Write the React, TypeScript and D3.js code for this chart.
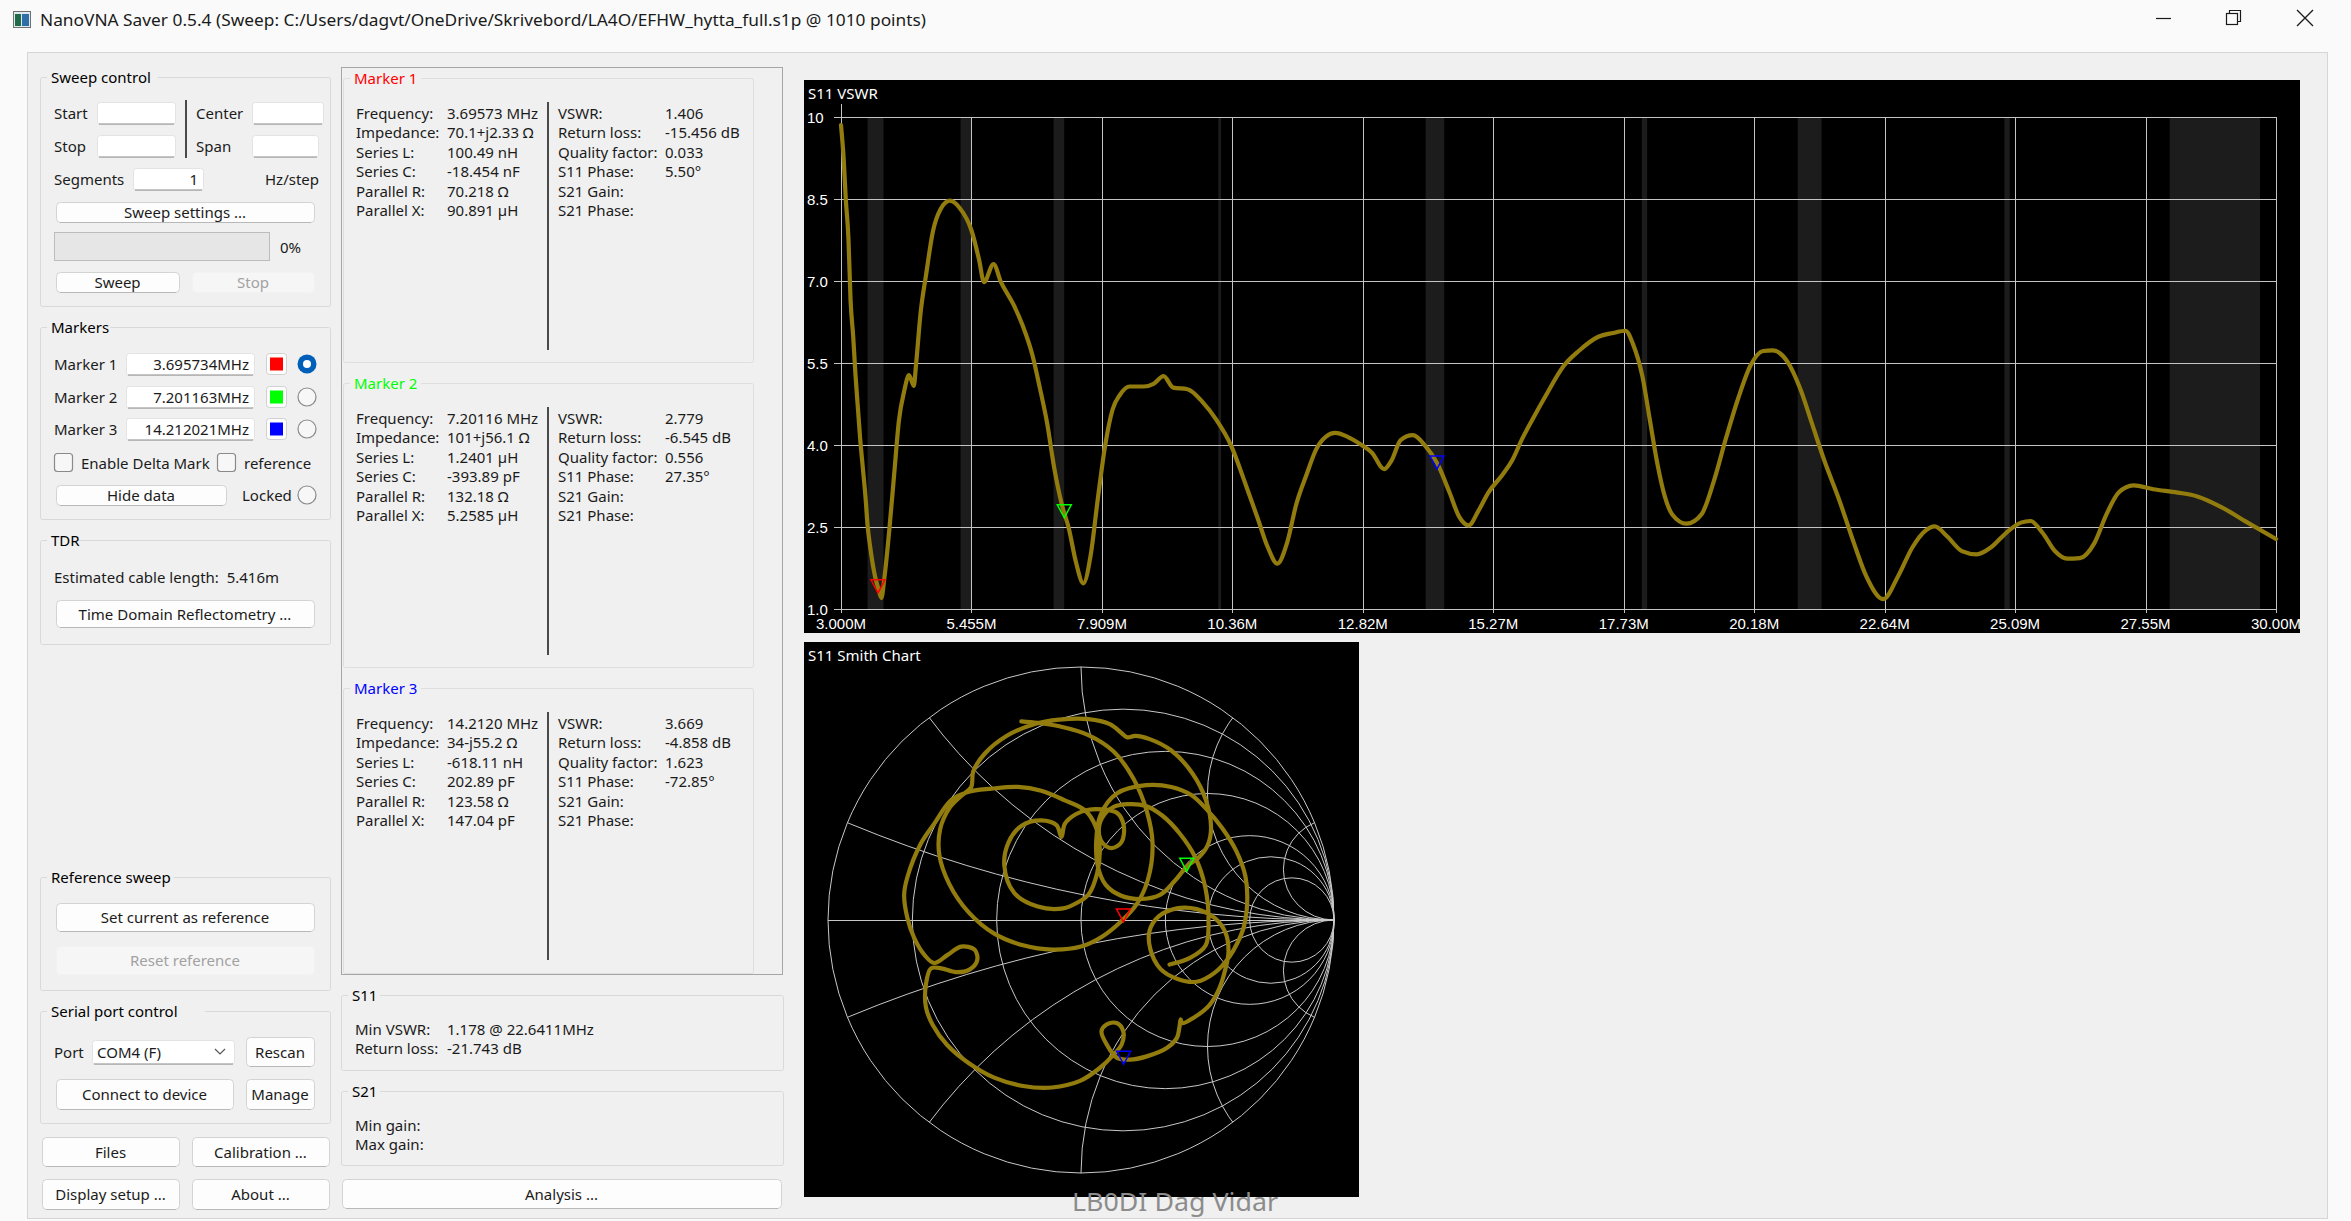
import React from "react";
import * as d3 from "d3";

const WIDTH = 2351;
const HEIGHT = 1221;
const UI_FONT = "'Noto Sans', 'Open Sans', sans-serif";
const CHART_FONT = "'Liberation Sans', Arial, sans-serif";
const TRACE = "#937c0e";
const GRID = "#c4c4c4";

const windowTitle =
  "NanoVNA Saver 0.5.4 (Sweep: C:/Users/dagvt/OneDrive/Skrivebord/LA4O/EFHW_hytta_full.s1p @ 1010 points)";

// S11 VSWR sweep (MHz / VSWR)
const freqMHz = [
  3.0, 3.05, 3.09, 3.14, 3.18, 3.23, 3.27, 3.32, 3.36, 3.41, 3.46, 3.5, 3.55, 3.64, 3.7, 3.76, 3.82, 3.91,
  4.0, 4.09, 4.19, 4.28, 4.37, 4.41, 4.5, 4.6, 4.73, 4.87, 5.05, 5.23, 5.46, 5.6, 5.69, 5.87, 6.01, 6.24,
  6.42, 6.6, 6.74, 6.88, 7.01, 7.15, 7.29, 7.42, 7.56, 7.7, 7.83, 7.97, 8.11, 8.25, 8.43, 8.7, 8.88, 9.07,
  9.25, 9.52, 9.8, 10.07, 10.34, 10.62, 10.84, 11.03, 11.21, 11.39, 11.57, 11.76, 11.94, 12.12, 12.3,
  12.53, 12.81, 12.99, 13.22, 13.36, 13.53, 13.76, 13.99, 14.22, 14.45, 14.63, 14.81, 14.99, 15.18, 15.45,
  15.63, 15.82, 16.0, 16.27, 16.6, 16.88, 17.25, 17.53, 17.76, 17.9, 18.08, 18.22, 18.36, 18.5, 18.64,
  18.91, 19.19, 19.42, 19.65, 19.88, 20.11, 20.35, 20.53, 20.81, 21.04, 21.27, 21.5, 21.78, 22.06, 22.29,
  22.61, 22.89, 23.16, 23.4, 23.58, 23.81, 24.09, 24.37, 24.64, 24.92, 25.2, 25.38, 25.61, 25.84, 26.07,
  26.31, 26.58, 26.81, 27.04, 27.32, 27.69, 28.15, 28.52, 28.98, 29.45, 30.0,
];
const vswr = [
  9.85, 9.24, 8.5, 7.78, 6.65, 5.98, 5.32, 4.65, 4.12, 3.59, 3.06, 2.53, 2.13, 1.6, 1.38, 1.2, 1.6, 2.46,
  3.46, 4.45, 4.99, 5.28, 5.08, 5.45, 6.44, 7.11, 7.91, 8.31, 8.47, 8.34, 7.91, 7.38, 6.98, 7.31, 6.98, 6.58,
  6.18, 5.65, 5.05, 4.39, 3.59, 2.93, 2.46, 1.86, 1.47, 2.0, 3.0, 3.99, 4.65, 4.92, 5.07, 5.07, 5.12, 5.26,
  5.05, 5.02, 4.79, 4.45, 3.99, 3.26, 2.66, 2.13, 1.83, 2.2, 2.93, 3.46, 3.92, 4.15, 4.22,
  4.15, 3.99, 3.86, 3.56, 3.72, 4.09, 4.18, 3.99, 3.66, 3.13, 2.69, 2.53, 2.79, 3.13, 3.46,
  3.72, 4.12, 4.45, 4.92, 5.45, 5.72, 5.98, 6.05, 6.09, 5.85, 5.25, 4.45, 3.66, 3.06, 2.73,
  2.56, 2.73, 3.33, 4.12, 4.85, 5.45, 5.72, 5.73, 5.52, 5.05, 4.39, 3.72, 3.0, 2.2, 1.6,
  1.18, 1.6, 2.13, 2.43, 2.51, 2.33, 2.06, 2.0, 2.13, 2.39, 2.58, 2.61, 2.39, 2.06, 1.92,
  1.93, 2.2, 2.73, 3.13, 3.26, 3.19, 3.13, 3.06, 2.86, 2.59, 2.28,
];

const freqTicks = [3.0, 5.4545, 7.9091, 10.3636, 12.8182, 15.2727, 17.7273, 20.1818, 22.6364, 25.0909, 27.5455, 30.0];
const freqTickLabels = ["3.000M", "5.455M", "7.909M", "10.36M", "12.82M", "15.27M", "17.73M", "20.18M", "22.64M", "25.09M", "27.55M", "30.00M"];
const vswrTicks = [1.0, 2.5, 4.0, 5.5, 7.0, 8.5, 10];
const vswrTickLabels = ["1.0", "2.5", "4.0", "5.5", "7.0", "8.5", "10"];

// amateur bands shaded in the VSWR chart (MHz)
const bandStart = [3.5, 5.25, 7.0, 10.1, 14.0, 18.068, 21.0, 24.89, 28.0];
const bandEnd = [3.8, 5.45, 7.2, 10.15, 14.35, 18.168, 21.45, 24.99, 29.7];

const s11Re = [
  -0.236, -0.171, -0.086, 0.029, 0.129, 0.207, 0.26, 0.283, 0.264, 0.221,
  0.157, 0.086, 0.0, -0.114, -0.229, -0.343, -0.443, -0.521, -0.56, -0.557,
  -0.521, -0.474, -0.434, -0.426, -0.379, -0.293, -0.186, -0.086, 0.029, 0.114,
  0.161, 0.183, 0.214, 0.269, 0.357, 0.44, 0.493, 0.514, 0.5, 0.464,
  0.419, 0.371, 0.314, 0.243, 0.157, 0.097, 0.066, 0.06, 0.077, 0.143,
  0.257, 0.357, 0.436, 0.493, 0.557, 0.614, 0.65, 0.657, 0.643, 0.617,
  0.586, 0.529, 0.457, 0.379, 0.314, 0.274, 0.271, 0.307, 0.379, 0.457,
  0.529, 0.571, 0.583, 0.569, 0.546, 0.507, 0.444, 0.4, 0.394, 0.389,
  0.379, 0.339, 0.26, 0.194, 0.141, 0.101, 0.081, 0.101, 0.141, 0.167,
  0.161, 0.129, 0.074, -0.004, -0.114, -0.229, -0.343, -0.443, -0.529, -0.586,
  -0.613, -0.613, -0.593, -0.553, -0.494, -0.441, -0.41, -0.421, -0.474, -0.527,
  -0.58, -0.619, -0.659, -0.686, -0.699, -0.686, -0.633, -0.58, -0.514, -0.447,
  -0.354, -0.249, -0.157, -0.064, 0.016, 0.057, 0.074, 0.064, 0.029, -0.014,
  -0.071, -0.171, -0.264, -0.303, -0.286, -0.236, -0.157, -0.097, -0.077, -0.064,
  -0.021, 0.029, 0.086, 0.143, 0.169, 0.16, 0.121, 0.083, 0.071, 0.093,
  0.129, 0.186, 0.257, 0.321, 0.391, 0.451, 0.491, 0.504, 0.493, 0.431, 0.35,
];
const s11Im = [
  0.785, 0.779, 0.766, 0.731, 0.666, 0.559, 0.43, 0.301, 0.158, 0.064,
  -0.007, -0.064, -0.105, -0.117, -0.1, -0.054, 0.029, 0.143, 0.258, 0.358,
  0.441, 0.49, 0.526, 0.587, 0.659, 0.728, 0.774, 0.792, 0.794, 0.774,
  0.738, 0.722, 0.728, 0.716, 0.67, 0.58, 0.476, 0.365, 0.294, 0.246,
  0.212, 0.155, 0.1, 0.083, 0.097, 0.14, 0.215, 0.308, 0.415, 0.501,
  0.533, 0.526, 0.494, 0.441, 0.365, 0.272, 0.172, 0.072, -0.029, -0.093,
  -0.146, -0.208, -0.244, -0.232, -0.193, -0.115, -0.043, 0.014, 0.046, 0.043,
  0.007, -0.05, -0.125, -0.201, -0.272, -0.337, -0.387, -0.408, -0.393, -0.424,
  -0.466, -0.506, -0.539, -0.552, -0.544, -0.491, -0.44, -0.413, -0.407, -0.44,
  -0.491, -0.532, -0.585, -0.636, -0.662, -0.656, -0.623, -0.566, -0.494, -0.415,
  -0.344, -0.255, -0.191, -0.191, -0.206, -0.196, -0.158, -0.117, -0.105, -0.138,
  -0.17, -0.138, -0.072, 0.007, 0.1, 0.17, 0.302, 0.381, 0.473, 0.506,
  0.519, 0.526, 0.511, 0.473, 0.433, 0.372, 0.287, 0.186, 0.1, 0.069,
  0.046, 0.053, 0.107, 0.215, 0.308, 0.372, 0.394, 0.375, 0.328, 0.38,
  0.418, 0.436, 0.437, 0.423, 0.372, 0.308, 0.284, 0.308, 0.365, 0.418,
  0.447, 0.458, 0.451, 0.413, 0.341, 0.249, 0.13, 0.0, -0.1, -0.15, -0.176,
];

// Smith grid
const smithResistances = [0.2, 0.5, 1, 2, 3, 5];
const smithReactances = [0.2, 0.5, 1, 2, 5];

// markers
const markerNames = ["Marker 1", "Marker 2", "Marker 3"];
const markerFreqText = ["3.695734MHz", "7.201163MHz", "14.212021MHz"];
const markerFreq = [3.695734, 7.201163, 14.212021];
const markerVswr = [1.406, 2.779, 3.669];
const markerRes = [70.1, 101, 34];
const markerReact = [2.33, 56.1, -55.2];
const markerColors = ["#ff0000", "#00ff00", "#0000ff"];

const panelLeftLabels = ["Frequency:", "Impedance:", "Series L:", "Series C:", "Parallel R:", "Parallel X:"];
const panelRightLabels = ["VSWR:", "Return loss:", "Quality factor:", "S11 Phase:", "S21 Gain:", "S21 Phase:"];
const markerLeftValues = [
  ["3.69573 MHz", "70.1+j2.33 Ω", "100.49 nH", "-18.454 nF", "70.218 Ω", "90.891 µH"],
  ["7.20116 MHz", "101+j56.1 Ω", "1.2401 µH", "-393.89 pF", "132.18 Ω", "5.2585 µH"],
  ["14.2120 MHz", "34-j55.2 Ω", "-618.11 nH", "202.89 pF", "123.58 Ω", "147.04 pF"],
];
const markerRightValues = [
  ["1.406", "-15.456 dB", "0.033", "5.50°", "", ""],
  ["2.779", "-6.545 dB", "0.556", "27.35°", "", ""],
  ["3.669", "-4.858 dB", "1.623", "-72.85°", "", ""],
];

function gammaOf(r: number, x: number): [number, number] {
  const nr = r - 50;
  const dr = r + 50;
  const d = dr * dr + x * x;
  return [(nr * dr + x * x) / d, (x * dr - nr * x) / d];
}

function tri(cx: number, cy: number) {
  return `M${cx - 7},${cy - 7}L${cx + 7},${cy - 7}L${cx},${cy + 6}Z`;
}

function GroupBox({ x, y, w, h, title, color = "#000", border = "#d9d9d9" }: any) {
  const tw = title.length * 7.9 + 8;
  return (
    <g>
      <rect x={x + 0.5} y={y + 0.5} width={w} height={h} rx={2} fill="none" stroke={border} />
      <rect x={x + 7} y={y - 10} width={tw} height={20} fill="#f0f0f0" />
      <text x={x + 11} y={y} dominantBaseline="central" fill={color}>{title}</text>
    </g>
  );
}

function Button({ x, y, w, h, label, disabled = false }: any) {
  return (
    <g>
      <rect x={x + 0.5} y={y + 0.5} width={w} height={h} rx={4}
        fill={disabled ? "#f6f6f6" : "#fdfdfd"} stroke={disabled ? "#f2f2f2" : "#d3d3d3"} />
      {!disabled && <line x1={x + 4} x2={x + w - 3} y1={y + h + 0.5} y2={y + h + 0.5} stroke="#b8b8b8" />}
      <text x={x + w / 2} y={y + h / 2} textAnchor="middle" dominantBaseline="central"
        fill={disabled ? "#a2a2a2" : "#1b1b1b"}>{label}</text>
    </g>
  );
}

function TextBox({ x, y, w, h, text = "", align = "end" }: any) {
  return (
    <g>
      <rect x={x + 0.5} y={y + 0.5} width={w} height={h} rx={3} fill="#ffffff" stroke="#e3e3e3" />
      <line x1={x + 2} x2={x + w - 1} y1={y + h} y2={y + h} stroke="#8a8a8a" />
      {text && (
        <text x={align === "end" ? x + w - 5 : x + 5} y={y + h / 2} textAnchor={align} dominantBaseline="central" fill="#1b1b1b">
          {text}
        </text>
      )}
    </g>
  );
}

function Radio({ cx, cy, checked = false }: any) {
  return checked ? (
    <g>
      <circle cx={cx} cy={cy} r={9.5} fill="#005fb8" />
      <circle cx={cx} cy={cy} r={4} fill="#ffffff" />
    </g>
  ) : (
    <circle cx={cx} cy={cy} r={9} fill="#f7f7f7" stroke="#8a8a8a" strokeWidth={1.2} />
  );
}

function CheckBox({ x, y }: any) {
  return <rect x={x + 0.5} y={y + 0.5} width={18} height={18} rx={3} fill="#f7f7f7" stroke="#8a8a8a" strokeWidth={1.2} />;
}

function TitleBar() {
  return (
    <g>
      <rect x={0} y={0} width={WIDTH} height={52} fill="#fafafa" />
      <rect x={13.5} y={11.5} width={17} height={16} fill="#dfe8ef" stroke="#707070" />
      <rect x={15} y={14} width={6} height={12} fill="#1f6b4a" />
      <rect x={22} y={14} width={7} height={12} fill="#2e6ea8" />
      <text x={40} y={19} dominantBaseline="central" fontSize={17} textLength={886} lengthAdjust="spacingAndGlyphs" fill="#1a1a1a">
        {windowTitle}
      </text>
      <line x1={2156} x2={2171} y1={18.5} y2={18.5} stroke="#1a1a1a" strokeWidth={1.2} />
      <rect x={2226.5} y={13.5} width={11} height={11} fill="none" stroke="#1a1a1a" strokeWidth={1.2} />
      <path d="M2229.5,13.5 V10.5 H2240.5 V21.5 H2237.5" fill="none" stroke="#1a1a1a" strokeWidth={1.2} />
      <path d="M2297,10 L2313,26 M2313,10 L2297,26" stroke="#1a1a1a" strokeWidth={1.3} />
    </g>
  );
}

function LeftPanel() {
  const markerRows = [364, 397, 429];
  return (
    <g>
      <GroupBox x={40} y={77} w={290} h={229} title="Sweep control" />
      <text x={54} y={113} dominantBaseline="central">Start</text>
      <TextBox x={97} y={102} w={78} h={22} />
      <line x1={186} x2={186} y1={100} y2={158} stroke="#4a4a4a" strokeWidth={2} />
      <text x={196} y={113} dominantBaseline="central">Center</text>
      <TextBox x={252} y={102} w={71} h={22} />
      <text x={54} y={146} dominantBaseline="central">Stop</text>
      <TextBox x={97} y={135} w={78} h={22} />
      <text x={196} y={146} dominantBaseline="central">Span</text>
      <TextBox x={252} y={135} w={66} h={22} />
      <text x={54} y={179} dominantBaseline="central">Segments</text>
      <TextBox x={133} y={168} w={70} h={22} text="1" />
      <text x={265} y={179} dominantBaseline="central">Hz/step</text>
      <Button x={56} y={202} w={258} h={20} label="Sweep settings ..." />
      <rect x={54.5} y={232.5} width={215} height={28} fill="#e6e6e6" stroke="#bcbcbc" />
      <text x={280} y={247} dominantBaseline="central">0%</text>
      <Button x={56} y={272} w={123} h={20} label="Sweep" />
      <Button x={192} y={272} w={122} h={20} label="Stop" disabled />

      <GroupBox x={40} y={327} w={290} h={192} title="Markers" />
      {markerNames.map((name, i) => (
        <g key={name}>
          <text x={54} y={markerRows[i]} dominantBaseline="central">{name}</text>
          <TextBox x={126} y={markerRows[i] - 11} w={128} h={22} text={markerFreqText[i]} />
          <rect x={266.5} y={markerRows[i] - 10.5} width={20} height={21} rx={3} fill="#fdfdfd" stroke="#d0d0d0" />
          <rect x={270} y={markerRows[i] - 6.5} width={13} height={13} fill={markerColors[i]} />
          <Radio cx={307} cy={markerRows[i]} checked={i === 0} />
        </g>
      ))}
      <CheckBox x={54} y={453} />
      <text x={81} y={463} dominantBaseline="central">Enable Delta Mark</text>
      <CheckBox x={217} y={453} />
      <text x={244} y={463} dominantBaseline="central">reference</text>
      <Button x={56} y={485} w={170} h={20} label="Hide data" />
      <text x={242} y={495} dominantBaseline="central">Locked</text>
      <Radio cx={307} cy={495} />

      <GroupBox x={40} y={540} w={290} h={104} title="TDR" />
      <text x={54} y={577} dominantBaseline="central">{"Estimated cable length:\u00a0\u00a05.416m"}</text>
      <Button x={56} y={600} w={258} h={27} label="Time Domain Reflectometry ..." />

      <GroupBox x={40} y={877} w={290} h={113} title="Reference sweep" />
      <Button x={56} y={903} w={258} h={28} label="Set current as reference" />
      <Button x={56} y={946} w={258} h={28} label="Reset reference" disabled />

      <GroupBox x={40} y={1011} w={290} h={112} title="Serial port control" />
      <text x={54} y={1052} dominantBaseline="central">Port</text>
      <TextBox x={92} y={1040} w={142} h={24} text="COM4 (F)" align="start" />
      <path d="M215,1049 l5,5 l5,-5" fill="none" stroke="#555" strokeWidth={1.2} />
      <Button x={246} y={1037} w={68} h={29} label="Rescan" />
      <Button x={56} y={1079} w={177} h={30} label="Connect to device" />
      <Button x={246} y={1079} w={68} h={30} label="Manage" />

      <Button x={42} y={1137} w={137} h={29} label="Files" />
      <Button x={192} y={1137} w={137} h={29} label="Calibration ..." />
      <Button x={42} y={1179} w={137} h={30} label="Display setup ..." />
      <Button x={192} y={1179} w={137} h={30} label="About ..." />
    </g>
  );
}

function MarkerPanel() {
  const tops = [78, 383, 688];
  return (
    <g>
      <rect x={341.5} y={67.5} width={441} height={907} fill="none" stroke="#a6a6a6" />
      {tops.map((top, m) => (
        <g key={m}>
          <GroupBox x={343} y={top} w={410} h={m === 2 ? 285 : 284} title={markerNames[m]} color={markerColors[m]} border="#dedede" />
          <line x1={548} x2={548} y1={top + 24} y2={top + 272} stroke="#4a4a4a" strokeWidth={2} />
          {panelLeftLabels.map((lab, i) => (
            <g key={lab}>
              <text x={356} y={top + 34.5 + i * 19.5} dominantBaseline="central">{lab}</text>
              <text x={447} y={top + 34.5 + i * 19.5} dominantBaseline="central">{markerLeftValues[m][i]}</text>
              <text x={558} y={top + 34.5 + i * 19.5} dominantBaseline="central">{panelRightLabels[i]}</text>
              <text x={665} y={top + 34.5 + i * 19.5} dominantBaseline="central">{markerRightValues[m][i]}</text>
            </g>
          ))}
        </g>
      ))}
      <GroupBox x={341} y={995} w={442} h={75} title="S11" />
      <text x={355} y={1029} dominantBaseline="central">Min VSWR:</text>
      <text x={447} y={1029} dominantBaseline="central">1.178 @ 22.6411MHz</text>
      <text x={355} y={1048} dominantBaseline="central">Return loss:</text>
      <text x={447} y={1048} dominantBaseline="central">-21.743 dB</text>
      <GroupBox x={341} y={1091} w={442} h={74} title="S21" />
      <text x={355} y={1125} dominantBaseline="central">Min gain:</text>
      <text x={355} y={1144} dominantBaseline="central">Max gain:</text>
      <Button x={342} y={1179} w={439} h={29} label="Analysis ..." />
    </g>
  );
}

function VswrChart() {
  const left = 804, top = 80, w = 1496, h = 553;
  const x = d3.scaleLinear().domain([3, 30]).range([841, 2276]);
  const y = d3.scaleLinear().domain([1, 10]).range([609, 117]);
  const path = d3
    .line<number>()
    .x((_, i) => x(freqMHz[i]))
    .y((d) => y(d))
    .curve(d3.curveMonotoneX)(vswr);
  return (
    <g fontFamily={CHART_FONT}>
      <defs>
        <clipPath id="vswr-clip">
          <rect x={left} y={top} width={w} height={h} />
        </clipPath>
      </defs>
      <rect x={left} y={top} width={w} height={h} fill="#000" />
      <g clipPath="url(#vswr-clip)">
        {bandStart.map((b, i) => (
          <rect key={i} x={x(b)} y={y(10)} width={x(bandEnd[i]) - x(b)} height={y(1) - y(10)} fill="#1c1c1c" />
        ))}
        {vswrTicks.map((t) => (
          <line key={t} x1={834} x2={x(30)} y1={Math.round(y(t)) + 0.5} y2={Math.round(y(t)) + 0.5} stroke={GRID} />
        ))}
        {freqTicks.map((f) => (
          <line key={f} x1={Math.round(x(f)) + 0.5} x2={Math.round(x(f)) + 0.5} y1={y(10)} y2={y(1) + 4} stroke={GRID} />
        ))}
        <line x1={x(3) + 0.5} x2={x(3) + 0.5} y1={104} y2={y(1)} stroke={GRID} />
        <path d={path || ""} fill="none" stroke={TRACE} strokeWidth={4.2} strokeLinejoin="round" strokeLinecap="round" />
        {markerFreq.map((f, i) => (
          <path key={i} d={tri(x(f), y(markerVswr[i]))} fill="none" stroke={markerColors[i]} strokeWidth={1.5} />
        ))}
        {vswrTicks.map((t, i) => (
          <text key={t} x={807} y={y(t)} dominantBaseline="central" fontSize={15} fill="#fff">{vswrTickLabels[i]}</text>
        ))}
        {freqTicks.map((f, i) => (
          <text key={f} x={x(f)} y={623} textAnchor="middle" dominantBaseline="central" fontSize={15} fill="#fff">
            {freqTickLabels[i]}
          </text>
        ))}
        <text x={808} y={93} dominantBaseline="central" fontSize={15} fontFamily={UI_FONT} fill="#fff">S11 VSWR</text>
      </g>
    </g>
  );
}

function SmithChart() {
  const cx = 1081, cy = 920, R = 253;
  const gx = d3.scaleLinear().domain([-1, 1]).range([cx - R, cx + R]);
  const gy = d3.scaleLinear().domain([-1, 1]).range([cy + R, cy - R]);
  const path = d3
    .line<number>()
    .x((d) => gx(d))
    .y((_, i) => gy(s11Im[i]))
    .curve(d3.curveCatmullRom.alpha(0.5))(s11Re);
  const arcs = smithReactances.flatMap((v) => [v, -v]);
  return (
    <g>
      <defs>
        <clipPath id="smith-clip">
          <circle cx={cx} cy={cy} r={R} />
        </clipPath>
      </defs>
      <rect x={804} y={642} width={555} height={555} fill="#000" />
      <g stroke="#c8c8c8" strokeWidth={1} fill="none">
        <circle cx={cx} cy={cy} r={R} />
        <line x1={gx(-1)} x2={gx(1)} y1={cy + 0.5} y2={cy + 0.5} />
        {smithResistances.map((r) => (
          <circle key={r} cx={gx(r / (1 + r))} cy={cy} r={R / (1 + r)} />
        ))}
        <g clipPath="url(#smith-clip)">
          {arcs.map((v) => (
            <circle key={v} cx={gx(1)} cy={gy(1 / v)} r={R / Math.abs(v)} />
          ))}
        </g>
      </g>
      <path d={path || ""} fill="none" stroke={TRACE} strokeWidth={4.2} strokeLinejoin="round" strokeLinecap="round" />
      {markerRes.map((r, i) => {
        const [gr, gi] = gammaOf(r, markerReact[i]);
        return <path key={i} d={tri(gx(gr), gy(gi))} fill="none" stroke={markerColors[i]} strokeWidth={1.5} />;
      })}
      <text x={808} y={655} dominantBaseline="central" fontSize={15} fill="#fff">S11 Smith Chart</text>
    </g>
  );
}

export default function App() {
  return (
    <svg
      width={WIDTH}
      height={HEIGHT}
      viewBox={`0 0 ${WIDTH} ${HEIGHT}`}
      style={{ position: "absolute", left: 0, top: 0, display: "block" }}
      fontFamily={UI_FONT}
      fontSize={15}
      fill="#1b1b1b"
    >
      <rect width={WIDTH} height={HEIGHT} fill="#fafafa" />
      <TitleBar />
      <rect x={27.5} y={52.5} width={2300} height={1166} fill="#f0f0f0" stroke="#d6d6d6" />
      <LeftPanel />
      <MarkerPanel />
      <VswrChart />
      <SmithChart />
      <text x={1072} y={1211} fontSize={26} fill="#8c8c8c" textLength={206} lengthAdjust="spacingAndGlyphs">
        LB0DI Dag Vidar
      </text>
    </svg>
  );
}
